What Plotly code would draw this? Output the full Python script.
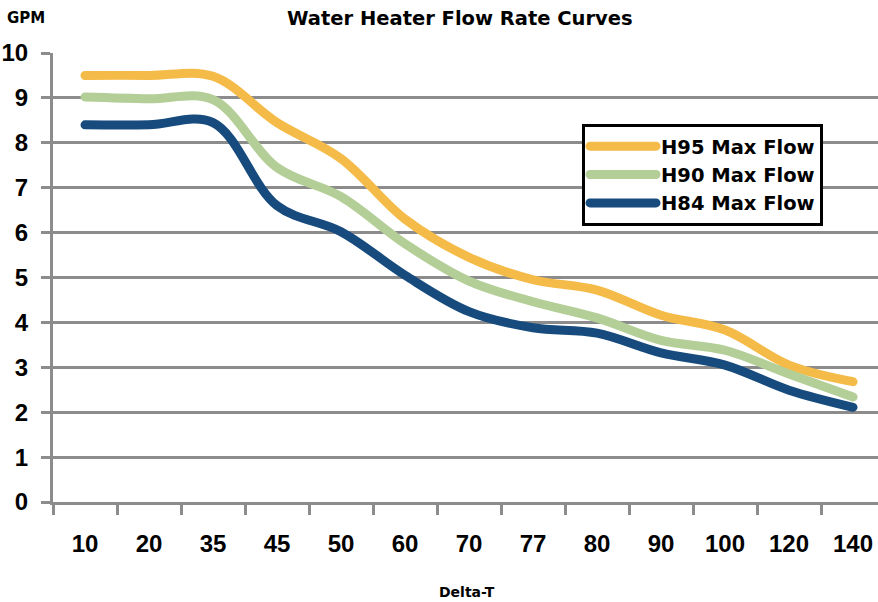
import plotly.graph_objects as go

categories = ["10", "20", "35", "45", "50", "60", "70", "77", "80", "90", "100", "120", "140"]
h95 = [9.5, 9.5, 9.48, 8.45, 7.65, 6.3, 5.45, 4.95, 4.72, 4.16, 3.83, 3.05, 2.68]
h90 = [9.02, 8.98, 8.96, 7.45, 6.8, 5.75, 4.92, 4.46, 4.1, 3.6, 3.38, 2.85, 2.34]
h84 = [8.4, 8.4, 8.45, 6.6, 6.02, 5.05, 4.24, 3.88, 3.76, 3.32, 3.05, 2.49, 2.11]

series = [
    ("H95 Max Flow", h95, "#F5BB48"),
    ("H90 Max Flow", h90, "#B3CE97"),
    ("H84 Max Flow", h84, "#174B7E"),
]

fig = go.Figure()
for name, vals, col in series:
    fig.add_trace(go.Scatter(
        x=categories, y=vals, name=name, mode="lines",
        line=dict(color=col, width=9, shape="spline", smoothing=1),
    ))

grid = "#8C8C8C"
L, T, B = 53, 53, 100
pw, ph = 878 - L, 602 - T - B
def px(x): return (x - L) / pw
def py(y): return (602 - B - y) / ph

fig.update_layout(
    width=878, height=602,
    margin=dict(l=L, r=0, t=T, b=B, autoexpand=False),
    plot_bgcolor="white", paper_bgcolor="white",
    font=dict(family="Liberation Sans, Arial, sans-serif", color="black"),
    showlegend=True,
    legend=dict(
        x=px(582), y=py(124), xanchor="left", yanchor="top",
        bordercolor="black", borderwidth=3, bgcolor="white",
        font=dict(family="DejaVu Sans", size=19.5, color="black", weight="bold"),
        traceorder="normal", tracegroupgap=0, itemwidth=66,
    ),
    annotations=[
        dict(text="<b>Water Heater Flow Rate Curves</b>", x=px(460), y=py(18),
             xref="paper", yref="paper", xanchor="center", yanchor="middle",
             showarrow=False, font=dict(family="DejaVu Sans", size=19.5)),
        dict(text="<b>GPM</b>", x=px(26), y=py(18), xref="paper", yref="paper",
             xanchor="center", yanchor="middle", showarrow=False,
             font=dict(family="DejaVu Sans", size=15)),
        dict(text="<b>Delta-T</b>", x=px(467), y=py(592), xref="paper", yref="paper",
             xanchor="center", yanchor="middle", showarrow=False,
             font=dict(family="DejaVu Sans", size=14)),
    ],
)

fig.update_xaxes(
    type="category", range=[-0.5, 12.39], showgrid=False, automargin=False,
    showline=True, linecolor=grid, linewidth=3,
    ticks="outside", tickson="boundaries", ticklen=10, tickwidth=3, tickcolor=grid,
    tickfont=dict(size=24, weight="bold"), ticklabelstandoff=18,
)
fig.update_yaxes(
    range=[0, 10], dtick=1, showgrid=True, gridcolor=grid, gridwidth=3, automargin=False,
    showline=True, linecolor=grid, linewidth=3, zeroline=False,
    ticks="outside", ticklen=9, tickwidth=3, tickcolor=grid,
    tickfont=dict(size=24, weight="bold"), ticklabelstandoff=8,
)

post = (
    "document.body.style.margin='0';document.body.style.overflow='hidden';"
    "document.querySelectorAll('.scatterlayer path.js-line, .legend path.js-line').forEach(function(p){"
    "p.style.strokeLinecap='round';p.style.strokeLinejoin='round';});"
)
fig.write_html("out.html", config={"displayModeBar": False}, post_script=post)
